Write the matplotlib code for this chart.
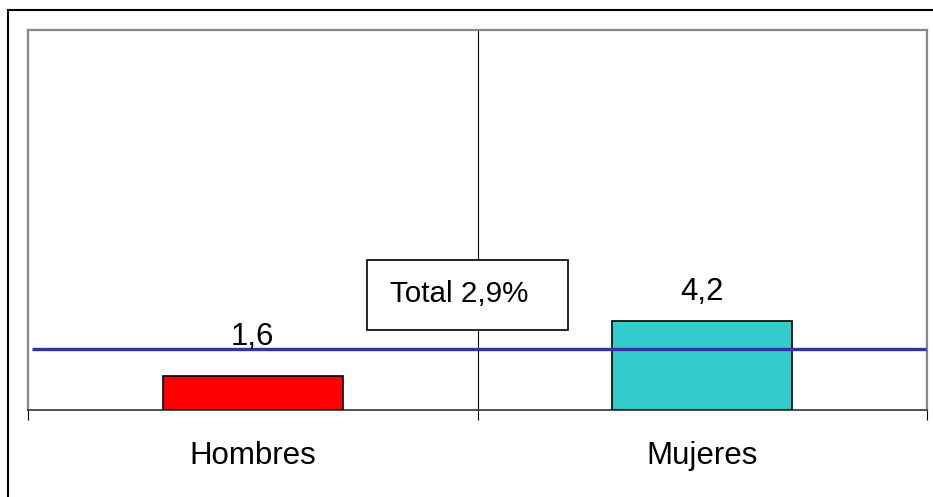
import matplotlib
matplotlib.use("Agg")
import matplotlib.pyplot as plt
from matplotlib.patches import Rectangle
from matplotlib.lines import Line2D
import matplotlib.transforms as mtransforms

plt.rcParams['font.family'] = ['Liberation Sans', 'DejaVu Sans']

# Data
categories = ["Hombres", "Mujeres"]
values = [1.6, 4.2]
value_labels = ["1,6", "4,2"]
total_value = 2.9
total_label = "Total 2,9%"

bar_colors = ["#FF0000", "#33CCCC"]
label_offsets_px = [39, 29]

fig = plt.figure(figsize=(9.33, 4.97), dpi=100)
W, H = 933, 497
ax = fig.add_axes([28 / W, (H - 410) / H, 899 / W, 380 / H])

positions = [0.5, 1.5]
ax.bar(positions, values, width=0.4, color=bar_colors,
       edgecolor="black", linewidth=1.2, zorder=3)

ax.set_xlim(0, 2)
ax.set_ylim(0, 18)

# Category divider
ax.axvline(1.0, color="black", linewidth=0.8, zorder=1)

# Total reference line
ax.plot([0.01, 1.998], [total_value, total_value], color="#333399",
        linewidth=2.4, solid_capstyle="butt", zorder=4)

# Value labels above bars
for x, v, lab, off in zip(positions, values, value_labels, label_offsets_px):
    ax.annotate(lab, xy=(x, v), xytext=(0, off * 0.72), textcoords="offset points",
                ha="center", va="center", fontsize=22.5, color="black", zorder=6)

# Total label box
ax.add_patch(Rectangle((0.754, 3.79), 0.447, 3.32, facecolor="white",
                       edgecolor="black", linewidth=1.2, zorder=5))
ax.text(0.959, 5.5, total_label, ha="center", va="center", fontsize=21.3,
        color="black", zorder=6)

# Category labels
trans = mtransforms.blended_transform_factory(ax.transData, ax.transAxes)
for x, c in zip(positions, categories):
    ax.text(x, -0.121, c, transform=trans, ha="center", va="center",
            fontsize=22.5, color="black")

# Axes styling
ax.set_xticks([0, 1, 2])
ax.set_xticklabels([])
ax.set_yticks([])
ax.tick_params(axis="x", direction="out", length=7.2, width=0.8, color="black")
for side in ["left", "top", "right"]:
    ax.spines[side].set_color("#888888")
    ax.spines[side].set_linewidth(1.6)
ax.spines["bottom"].set_color("#333333")
ax.spines["bottom"].set_linewidth(1.2)

# Outer chart frame (left and top edges)
fig.add_artist(Line2D([8 / W, 8 / W], [0, (H - 10) / H], color="black",
                      linewidth=1.5, transform=fig.transFigure))
fig.add_artist(Line2D([8 / W, 1], [(H - 10) / H, (H - 10) / H], color="black",
                      linewidth=1.5, transform=fig.transFigure))

fig.savefig("out.png", dpi=100, facecolor="white")
